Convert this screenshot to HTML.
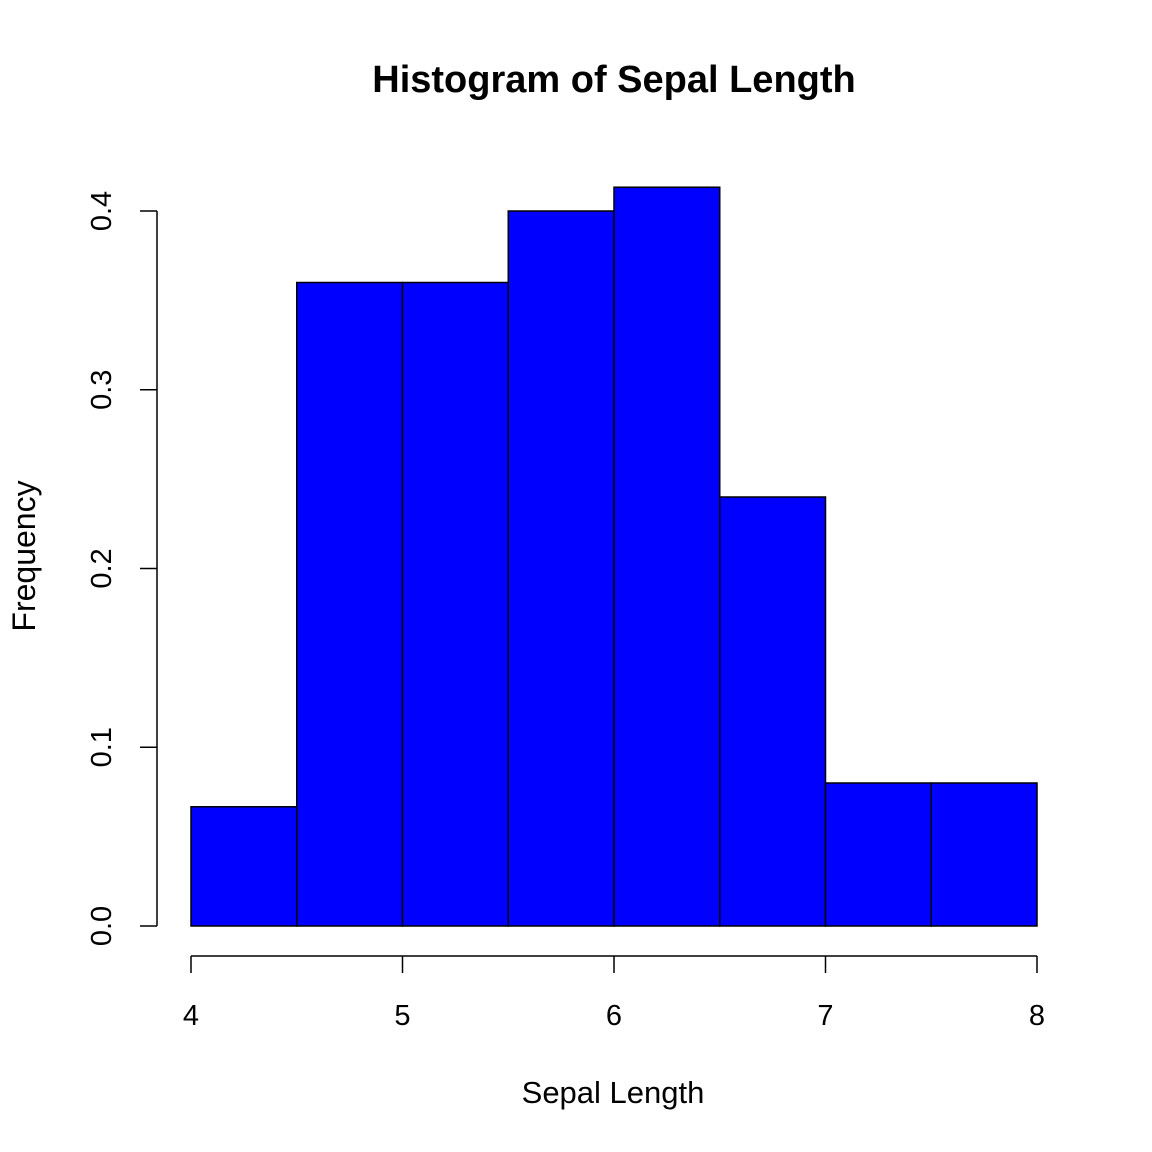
<!DOCTYPE html>
<html><head><meta charset="utf-8"><style>body{margin:0;background:#fff}svg{display:block}text{font-family:"Liberation Sans",Arial,sans-serif;fill:#000}</style></head>
<body>
<svg id="chart" width="1152" height="1152" viewBox="0 0 1152 1152">
<rect width="1152" height="1152" fill="#fff"/>
<text x="614" y="92" font-size="38" font-weight="bold" text-anchor="middle">Histogram of Sepal Length</text>
<text x="613" y="1103" font-size="31" text-anchor="middle">Sepal Length</text>
<text transform="translate(35,556) rotate(-90)" font-size="32" text-anchor="middle">Frequency</text>
<g id="bars"></g><g id="axes"></g>
</svg>
<script>
const binEdges=[4,4.5,5,5.5,6,6.5,7,7.5,8];
const densities=[0.0667,0.36,0.36,0.4,0.4133,0.24,0.08,0.08];
const xTicks=[4,5,6,7,8];
const yTicks=[0,0.1,0.2,0.3,0.4];
const yTickLabels=["0.0","0.1","0.2","0.3","0.4"];
const NS="http://www.w3.org/2000/svg";
const xs=v=>191+(v-4)*211.5;
const ys=v=>926-v*1787.5;
function mk(tag,attrs,parent){const e=document.createElementNS(NS,tag);for(const k in attrs)e.setAttribute(k,attrs[k]);parent.appendChild(e);return e;}
const bars=document.getElementById('bars'),axes=document.getElementById('axes');
densities.forEach((d,i)=>{const r=mk('rect',{x:xs(binEdges[i]),y:ys(d),width:xs(binEdges[i+1])-xs(binEdges[i]),height:ys(0)-ys(d),fill:'#0000ff',stroke:'#000','stroke-width':1.5},bars);

});
const xl=mk('line',{x1:xs(xTicks[0]),x2:xs(xTicks[xTicks.length-1]),y1:956,y2:956,stroke:'#000','stroke-width':1.5},axes);


xTicks.forEach(t=>{mk('line',{x1:xs(t),x2:xs(t),y1:956,y2:973,stroke:'#000','stroke-width':1.5},axes);
const tx=mk('text',{x:xs(t),y:1025,'font-size':29,'text-anchor':'middle'},axes);tx.textContent=t;

});
const yl=mk('line',{x1:157,x2:157,y1:ys(yTicks[0]),y2:ys(yTicks[yTicks.length-1]),stroke:'#000','stroke-width':1.5},axes);


yTicks.forEach((t,i)=>{mk('line',{x1:140,x2:157,y1:ys(t),y2:ys(t),stroke:'#000','stroke-width':1.5},axes);
const tx=mk('text',{transform:`translate(111,${ys(t)}) rotate(-90)`,'font-size':29,'text-anchor':'middle'},axes);tx.textContent=yTickLabels[i];

});
</script>
</body></html>
